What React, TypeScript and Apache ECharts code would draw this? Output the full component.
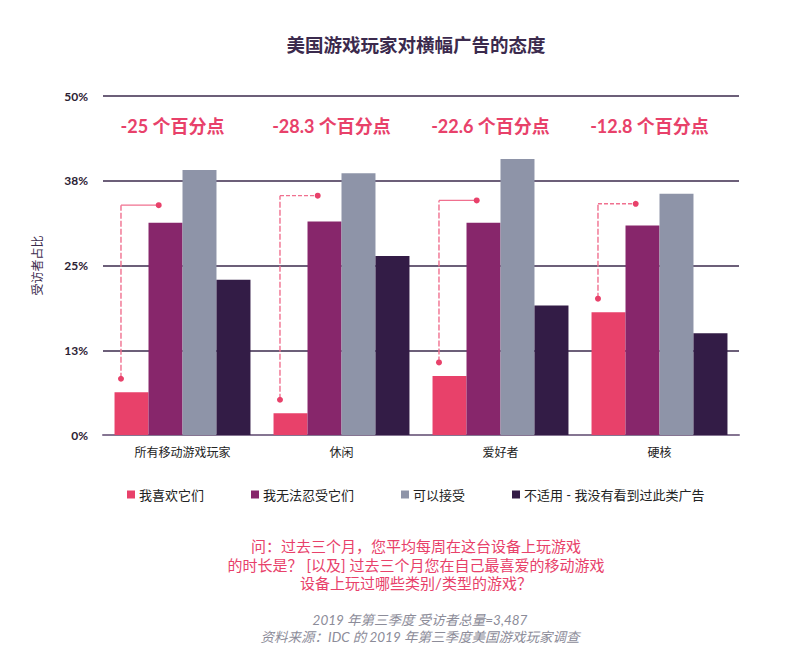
import React, { useEffect, useRef } from "react";
import * as echarts from "echarts";

const categories = ["所有移动游戏玩家", "休闲", "爱好者", "硬核"];
const seriesNames = ["我喜欢它们", "我无法忍受它们", "可以接受", "不适用 - 我没有看到过此类广告"];
const likeVals = [6.3, 3.2, 8.7, 18.1];
const cannotStandVals = [31.3, 31.5, 31.3, 30.9];
const acceptVals = [39.1, 38.6, 40.7, 35.6];
const notApplicableVals = [22.9, 26.4, 19.1, 15.0];
const diffVals = [-25, -28.3, -22.6, -12.8];
const connectorLevels = [33.9, 35.3, 34.6, 34.1];

const colors = ["#e8416a", "#87266b", "#8e94a8", "#331c46"];
const FONT = 'Lato, "Noto Sans CJK SC", sans-serif';

export default function App() {
  const ref = useRef<HTMLDivElement>(null);
  useEffect(() => {
    if (!ref.current) return;
    const chart = echarts.init(ref.current, null, { renderer: "svg" });
    const valueSets = [likeVals, cannotStandVals, acceptVals, notApplicableVals];
    const gapRatio = 0.145;
    const barSeries = valueSets.map((vals, i) => ({
      name: seriesNames[i],
      type: "bar",
      data: vals,
      barGap: "0%",
      barCategoryGap: gapRatio * 100 + "%",
      itemStyle: { color: colors[i] },
      z: 2,
    }));
    const annoData = categories.map((_, i) => [i, likeVals[i], connectorLevels[i], diffVals[i]]);
    const option: any = {
      animation: false,
      textStyle: { fontFamily: FONT },
      grid: { left: 103, right: 46, top: 96, bottom: 213, containLabel: false },
      legend: {
        data: seriesNames,
        left: 122,
        top: 483,
        itemWidth: 8,
        itemHeight: 8,
        itemGap: 47,
        icon: "rect",
        textStyle: { fontSize: 13, color: "#222", fontFamily: FONT, padding: [0, 0, 0, -1] },
      },
      xAxis: {
        type: "category",
        data: categories,
        axisLine: { show: true, lineStyle: { color: "#857592", width: 2 } },
        axisTick: { show: false },
        axisLabel: { fontSize: 12, color: "#222", margin: 11, fontFamily: FONT },
      },
      yAxis: {
        type: "value",
        min: 0,
        max: 50,
        interval: 12.5,
        name: "受访者占比",
        nameLocation: "middle",
        nameGap: 60,
        nameRotate: 90,
        nameTextStyle: { fontSize: 12, color: "#3b2a4d", fontFamily: FONT },
        axisLine: { show: false },
        axisTick: { show: false },
        axisLabel: {
          formatter: (v: number) => Math.round(v) + "%",
          fontSize: 12,
          fontWeight: "bold",
          color: "#2b2233",
          margin: 15,
          fontFamily: FONT,
        },
        splitLine: { show: true, lineStyle: { color: "#3b2a4d", width: 1.5 } },
      },
      series: [
        ...barSeries,
        {
          type: "custom",
          coordinateSystem: "cartesian2d",
          data: annoData,
          encode: { x: 0, y: 1 },
          z: 5,
          silent: true,
          renderItem: (params: any, api: any) => {
            const idx = api.value(0);
            const pink = api.value(1);
            const level = api.value(2);
            const diff = api.value(3);
            const catW = api.size([1, 0])[0];
            const center = api.coord([idx, 0])[0];
            const bw = (catW * (1 - gapRatio)) / 4;
            const pinkX = center - 2 * bw + bw * 0.19;
            const purpleX = center - bw + bw * 0.3;
            const yDot = api.coord([idx, pink + 2.0])[1];
            const yH = api.coord([idx, level])[1];
            const yLabel = api.coord([idx, 45.6])[1];
            const dashedH = params.dataIndex % 2 === 1;
            return {
              type: "group",
              children: [
                {
                  type: "line",
                  shape: { x1: pinkX, y1: yDot, x2: pinkX, y2: yH },
                  style: { stroke: "#f0708f", lineWidth: 1.4, lineDash: [6, 2] },
                },
                {
                  type: "line",
                  shape: { x1: pinkX, y1: yH, x2: purpleX, y2: yH },
                  style: { stroke: "#f0708f", lineWidth: 1.4, lineDash: dashedH ? [4, 2] : null },
                },
                { type: "circle", shape: { cx: pinkX, cy: yDot, r: 3 }, style: { fill: "#e8416a" } },
                { type: "circle", shape: { cx: purpleX, cy: yH, r: 3 }, style: { fill: "#e8416a" } },
                {
                  type: "text",
                  x: center - 10,
                  y: yLabel,
                  style: {
                    text: diff + " 个百分点",
                    fill: "#e8416a",
                    font: "bold 18px " + FONT,
                    align: "center",
                    verticalAlign: "middle",
                  },
                },
              ],
            };
          },
        },
      ],
      graphic: [
        {
          type: "text",
          x: 416,
          y: 45,
          style: {
            text: "美国游戏玩家对横幅广告的态度",
            fill: "#3b2a4d",
            font: "bold 18.5px " + FONT,
            align: "center",
            verticalAlign: "middle",
          },
        },
        {
          type: "text",
          x: 416,
          y: 537,
          style: {
            text:
              "问：过去三个月，您平均每周在这台设备上玩游戏\n的时长是？ [以及] 过去三个月您在自己最喜爱的移动游戏\n设备上玩过哪些类别/类型的游戏？",
            fill: "#e8416a",
            font: "15px " + FONT,
            lineHeight: 18.5,
            align: "center",
            verticalAlign: "top",
          },
        },
        {
          type: "text",
          x: 420,
          y: 611,
          style: {
            text: "2019 年第三季度 受访者总量=3,487\n资料来源：IDC 的 2019 年第三季度美国游戏玩家调查",
            fill: "#8c8c99",
            font: "italic 13.5px " + FONT,
            lineHeight: 17,
            align: "center",
            verticalAlign: "top",
          },
        },
      ],
    };
    chart.setOption(option);
    return () => chart.dispose();
  }, []);
  return (
    <div
      ref={ref}
      style={{ position: "absolute", left: 0, top: 0, width: 785, height: 648, background: "#fff" }}
    />
  );
}
